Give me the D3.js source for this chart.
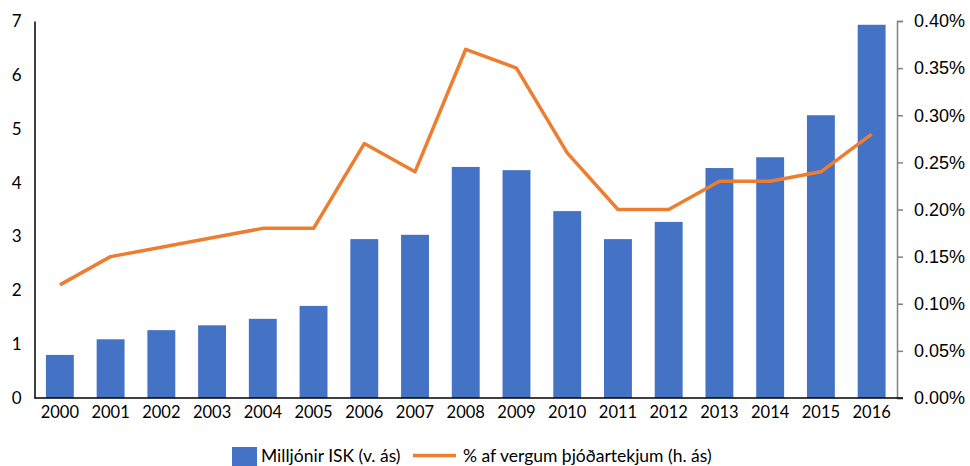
<!DOCTYPE html>
<html><head><meta charset="utf-8">
<script src="https://cdn.jsdelivr.net/npm/d3@7"></script>
<style>body{margin:0;background:#fff}svg{display:block}</style>
</head><body>
<svg id="c" width="970" height="466"></svg>
<script>
const years = ["2000","2001","2002","2003","2004","2005","2006","2007","2008","2009","2010","2011","2012","2013","2014","2015","2016"];
const milljonir = [0.80,1.09,1.26,1.35,1.47,1.71,2.95,3.03,4.29,4.23,3.47,2.95,3.27,4.27,4.47,5.25,6.93];
const hlutfall = [0.12,0.15,0.16,0.17,0.18,0.18,0.27,0.24,0.37,0.35,0.26,0.20,0.20,0.23,0.23,0.24,0.28];
const leftTicks = [0,1,2,3,4,5,6,7];
const rightTicks = [0,0.05,0.10,0.15,0.20,0.25,0.30,0.35,0.40];
const seriesNames = ["Milljónir ISK (v. ás)","% af vergum þjóðartekjum (h. ás)"];

const svg = d3.select("#c");
const L = 34.5, R = 897, T = 21, B = 398;
const x = d3.scaleBand().domain(years).range([L, R]).paddingInner(0.45).paddingOuter(0.225);
const xc = d3.scaleBand().domain(years).range([L, R]);
const yL = d3.scaleLinear().domain([0,7]).range([B, T]);
const yR = d3.scaleLinear().domain([0,0.40]).range([B, T]);

// bars
svg.append("g").selectAll("rect").data(milljonir).join("rect")
  .attr("x",(d,i)=>x(years[i])).attr("width",x.bandwidth())
  .attr("y",d=>yL(d)).attr("height",d=>B-yL(d)).attr("fill","#4472C4");

// left axis
const gl = svg.append("g").attr("transform",`translate(${L},0)`)
  .call(d3.axisLeft(yL).tickValues(leftTicks).tickSize(0).tickPadding(13).tickFormat(d3.format("d")));
gl.select(".domain").attr("stroke","#000").attr("stroke-width",1.5);
gl.selectAll("text").attr("font-family","Lato, sans-serif").attr("font-size",17).attr("fill","#000");

// right axis
const gr = svg.append("g").attr("transform",`translate(${R},0)`)
  .call(d3.axisRight(yR).tickValues(rightTicks).tickSize(6).tickSizeOuter(6).tickPadding(11).tickFormat(d=>d.toFixed(2)+"%"));
gr.select(".domain").attr("stroke","#808080").attr("stroke-width",1.5);
gr.selectAll(".tick line").attr("stroke","#808080").attr("stroke-width",1.5);
gr.selectAll("text").attr("font-family","'Liberation Sans', Arial, sans-serif").attr("font-size",18).attr("fill","#000");

// x axis
const gx = svg.append("g").attr("transform",`translate(0,${B})`)
  .call(d3.axisBottom(xc).tickSize(0).tickPadding(8));
gx.select(".domain").remove();
gx.selectAll("text").attr("font-family","Lato, sans-serif").attr("font-size",16.5).attr("fill","#000");
svg.append("line").attr("x1",L).attr("x2",R+6).attr("y1",B).attr("y2",B).attr("stroke","#000").attr("stroke-width",1.5);

// line
const line = d3.line().x((d,i)=>xc(years[i])+xc.bandwidth()/2).y(d=>yR(d));
svg.append("path").datum(hlutfall).attr("d",line).attr("fill","none")
  .attr("stroke","#ED7D31").attr("stroke-width",3.5).attr("stroke-linejoin","round");

// legend
const lg = svg.append("g");
lg.append("rect").attr("x",232).attr("y",447).attr("width",25).attr("height",19).attr("fill","#4472C4");
lg.append("text").attr("x",261).attr("y",462).text(seriesNames[0])
  .attr("font-family","Lato, sans-serif").attr("font-size",17.5).attr("fill","#000");
lg.append("line").attr("x1",413).attr("x2",456).attr("y1",455.5).attr("y2",455.5).attr("stroke","#ED7D31").attr("stroke-width",3.5);
lg.append("text").attr("x",463).attr("y",462).text(seriesNames[1])
  .attr("font-family","Lato, sans-serif").attr("font-size",17.5).attr("fill","#000");
</script>
</body></html>
